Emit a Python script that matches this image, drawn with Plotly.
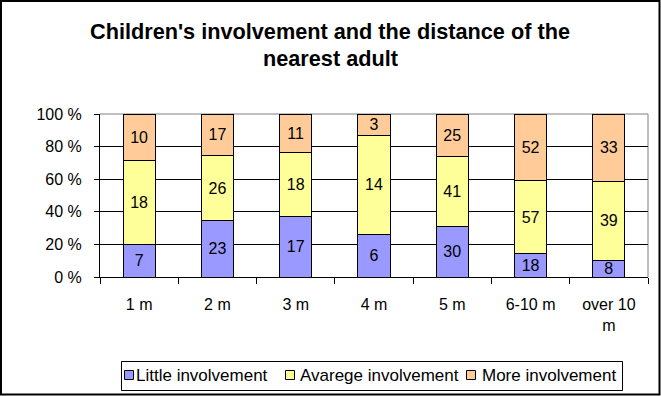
import plotly.graph_objects as go

categories = ["1 m", "2 m", "3 m", "4 m", "5 m", "6-10 m", "over 10<br>m"]
little = [7, 23, 17, 6, 30, 18, 8]
average = [18, 26, 18, 14, 41, 57, 39]
more = [10, 17, 11, 3, 25, 52, 33]
series_names = ["Little involvement", "Avarege involvement", "More involvement"]
colors = ["#9999FF", "#FFFF99", "#FFCC99"]
y_ticks = [0, 20, 40, 60, 80, 100]
y_tick_text = ["0 %", "20 %", "40 %", "60 %", "80 %", "100 %"]
title_lines = ["Children's involvement and the distance of the", "nearest adult"]

W, H = 661, 396
L, R, T, B = 100, 13, 114, 119
pw, ph = W - L - R, H - T - B

FONT = "Liberation Sans, Arial, sans-serif"


def px_x(x):
    return (x - L) / pw


def px_y(y):
    return (H - B - y) / ph


fig = go.Figure()
for name, vals, col in zip(series_names, [little, average, more], colors):
    fig.add_trace(go.Bar(
        x=categories, y=vals, name=name,
        marker=dict(color=col, line=dict(color="black", width=1)),
        text=[str(v) for v in vals], textposition="inside",
        insidetextanchor="middle", textangle=0,
        textfont=dict(family=FONT, size=16, color="black"),
        constraintext="none",
        hoverinfo="skip", showlegend=False,
    ))

fig.update_layout(
    width=W, height=H,
    margin=dict(l=L, r=R, t=T, b=B, autoexpand=False),
    barmode="stack", barnorm="percent", bargap=0.59,
    paper_bgcolor="white", plot_bgcolor="white",
    font=dict(family=FONT, size=16, color="black"),
    showlegend=False,
)

fig.update_xaxes(
    showline=True, linecolor="black", linewidth=1,
    ticks="outside", tickson="boundaries", ticklen=6, tickcolor="black",
    showgrid=False, ticklabelstandoff=13,
    tickfont=dict(family=FONT, size=16, color="black"),
    fixedrange=True,
)
fig.update_yaxes(
    range=[0, 100], tickmode="array", tickvals=y_ticks, ticktext=y_tick_text,
    showline=True, linecolor="black", linewidth=1,
    ticks="outside", ticklen=5, tickcolor="black",
    showgrid=True, gridcolor="black", gridwidth=1,
    ticklabelstandoff=9,
    tickfont=dict(family=FONT, size=16, color="black"),
    zeroline=False, fixedrange=True,
)

# plot area border (gray top/right)
fig.add_shape(type="line", xref="paper", yref="paper", x0=0, x1=1, y0=1, y1=1,
              line=dict(color="#808080", width=1), layer="below")
fig.add_shape(type="line", xref="paper", yref="paper", x0=1, x1=1, y0=0, y1=1,
              line=dict(color="#808080", width=1), layer="below")

# outer chart border
fig.add_shape(type="rect", xref="paper", yref="paper",
              x0=px_x(1), x1=px_x(659.5), y0=px_y(394.5), y1=px_y(1),
              line=dict(color="black", width=2), fillcolor="rgba(0,0,0,0)")

# title
for line, yc in zip(title_lines, [31, 58]):
    fig.add_annotation(
        text="<b>%s</b>" % line, xref="paper", yref="paper",
        x=px_x(330), xanchor="center",
        y=px_y(yc), yanchor="middle",
        showarrow=False, font=dict(family=FONT, size=21.7, color="black"),
    )

# legend (box, swatches, labels)
fig.add_shape(type="rect", xref="paper", yref="paper",
              x0=px_x(121.5), x1=px_x(622.5), y0=px_y(390.5), y1=px_y(361.5),
              line=dict(color="black", width=1), fillcolor="white")
swatch_x = [124, 285, 466]
text_x = [135, 299, 481]
leg_yc = 375
for name, col, sx, tx in zip(series_names, colors, swatch_x, text_x):
    fig.add_shape(type="rect", xref="paper", yref="paper",
                  x0=px_x(sx + 0.5), x1=px_x(sx + 9.5),
                  y0=px_y(leg_yc + 4.5), y1=px_y(leg_yc - 4.5),
                  line=dict(color="black", width=1), fillcolor=col)
    fig.add_annotation(
        text=name, xref="paper", yref="paper",
        x=px_x(tx), xanchor="left", y=px_y(leg_yc), yanchor="middle",
        showarrow=False, font=dict(family=FONT, size=17, color="black"),
        xshift=-1,
    )

fig.write_html(
    "out.html",
    config={"displayModeBar": False, "staticPlot": True},
    post_script="document.body.style.margin='0px';document.body.style.overflow='hidden';",
)
